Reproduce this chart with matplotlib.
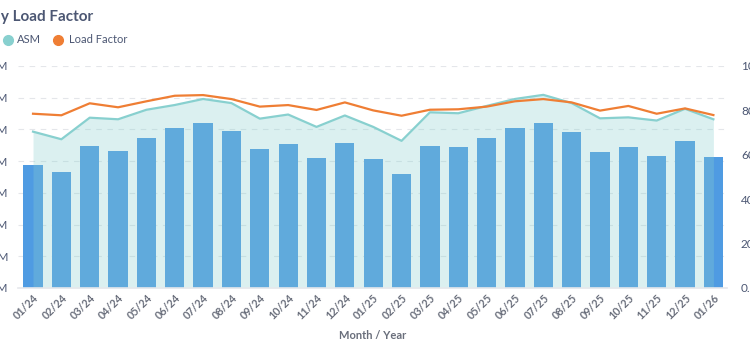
import numpy as np
import matplotlib
matplotlib.use("Agg")
import matplotlib.pyplot as plt
from matplotlib.lines import Line2D

plt.rcParams['font.family'] = ['Lato', 'DejaVu Sans']

# --- data ---
months = ['01/24', '02/24', '03/24', '04/24', '05/24', '06/24', '07/24', '08/24',
          '09/24', '10/24', '11/24', '12/24', '01/25', '02/25', '03/25', '04/25',
          '05/25', '06/25', '07/25', '08/25', '09/25', '10/25', '11/25', '12/25', '01/26']
# revenue passenger miles (bars, millions) and available seat miles (area, millions)
rpm = [3.88, 3.65, 4.48, 4.33, 4.74, 5.03, 5.21, 4.96, 4.38, 4.53, 4.09, 4.57, 4.06,
       3.60, 4.48, 4.46, 4.72, 5.04, 5.21, 4.91, 4.30, 4.44, 4.15, 4.63, 4.14]
asm = [4.93, 4.69, 5.37, 5.32, 5.62, 5.77, 5.96, 5.83, 5.34, 5.47, 5.08, 5.44, 5.08,
       4.64, 5.54, 5.51, 5.74, 5.96, 6.09, 5.83, 5.35, 5.38, 5.28, 5.65, 5.32]
# load factor in percent (right axis)
load_factor = [78.5, 77.8, 83.2, 81.4, 84.1, 86.6, 86.9, 85.1, 81.7, 82.4, 80.2, 83.6, 80.0,
               77.6, 80.3, 80.5, 81.7, 84.1, 85.1, 83.6, 79.9, 82.0, 78.5, 80.9, 77.9]
left_ticks = [0, 1, 2, 3, 4, 5, 6, 7]
left_labels = ['0.0M', '1.0M', '2.0M', '3.0M', '4.0M', '5.0M', '6.0M', '7.0M']
right_ticks = [0, 20, 40, 60, 80, 100]
right_labels = ['0.0%', '20.0%', '40.0%', '60.0%', '80.0%', '100.0%']

TEXT = '#4C5773'
TICK = '#696E7B'
BAR = '#4F9BE2'
TEAL = '#88D0CF'
ORANGE = '#EF7E34'

x = np.arange(len(months))

fig = plt.figure(figsize=(7.5, 3.5), dpi=100)
ax = fig.add_axes([18 / 750, 1 - 288 / 350, (727 - 18) / 750, (288 - 66) / 350])

ax.bar(x, rpm, width=0.68, color=BAR, zorder=1)
ax.fill_between(x, 0, asm, color=TEAL, alpha=0.3, linewidth=0, zorder=2)
ax.plot(x, asm, color=TEAL, linewidth=1.6, zorder=3)

ax.set_xlim(-0.53, len(months) - 0.52)
ax.set_ylim(0, 7)
ax.set_yticks(left_ticks)
ax.set_yticklabels(left_labels)
ax.grid(axis='y', color='#E4E6EA', linestyle=(0, (5, 5)), linewidth=0.8, zorder=0)
ax.set_axisbelow(True)
for s in ['top', 'right', 'left']:
    ax.spines[s].set_visible(False)
ax.spines['bottom'].set_color('#E6E8EC')
ax.spines['bottom'].set_linewidth(1.2)
ax.tick_params(axis='y', length=0, pad=7, labelsize=8.5, labelcolor=TEXT)
ax.tick_params(axis='x', length=0, pad=3, labelsize=7.8, labelcolor=TICK)
ax.set_xticks(x)
ax.set_xticklabels(months, rotation=45, ha='right', va='top', rotation_mode='anchor',
                   fontweight='bold')
ax.set_xlabel('Month / Year', fontsize=8, fontweight='bold', color=TICK, labelpad=6)

ax2 = ax.twinx()
ax2.plot(x, load_factor, color=ORANGE, linewidth=1.6, zorder=4)
ax2.set_ylim(0, 100)
ax2.set_yticks(right_ticks)
ax2.set_yticklabels(right_labels)
ax2.tick_params(axis='y', length=0, pad=10, labelsize=8.5, labelcolor=TEXT)
for s in ax2.spines.values():
    s.set_visible(False)

# title (cropped at left like the reference)
fig.text(93 / 750, 1 - 17 / 350, 'Monthly Load Factor', ha='right', va='center',
         fontsize=11, fontweight='bold', color=TEXT)

# legend
for cx, col in [(7.5, TEAL), (58, ORANGE)]:
    fig.add_artist(Line2D([cx / 750], [1 - 39.5 / 350], marker='o', markersize=7,
                          color=col, linestyle='none', transform=fig.transFigure))
fig.text(17 / 750, 1 - 39.5 / 350, 'ASM', ha='left', va='center', fontsize=8, color=TEXT)
fig.text(69 / 750, 1 - 39.5 / 350, 'Load Factor', ha='left', va='center', fontsize=8, color=TEXT)

fig.savefig('out.png', dpi=100)
